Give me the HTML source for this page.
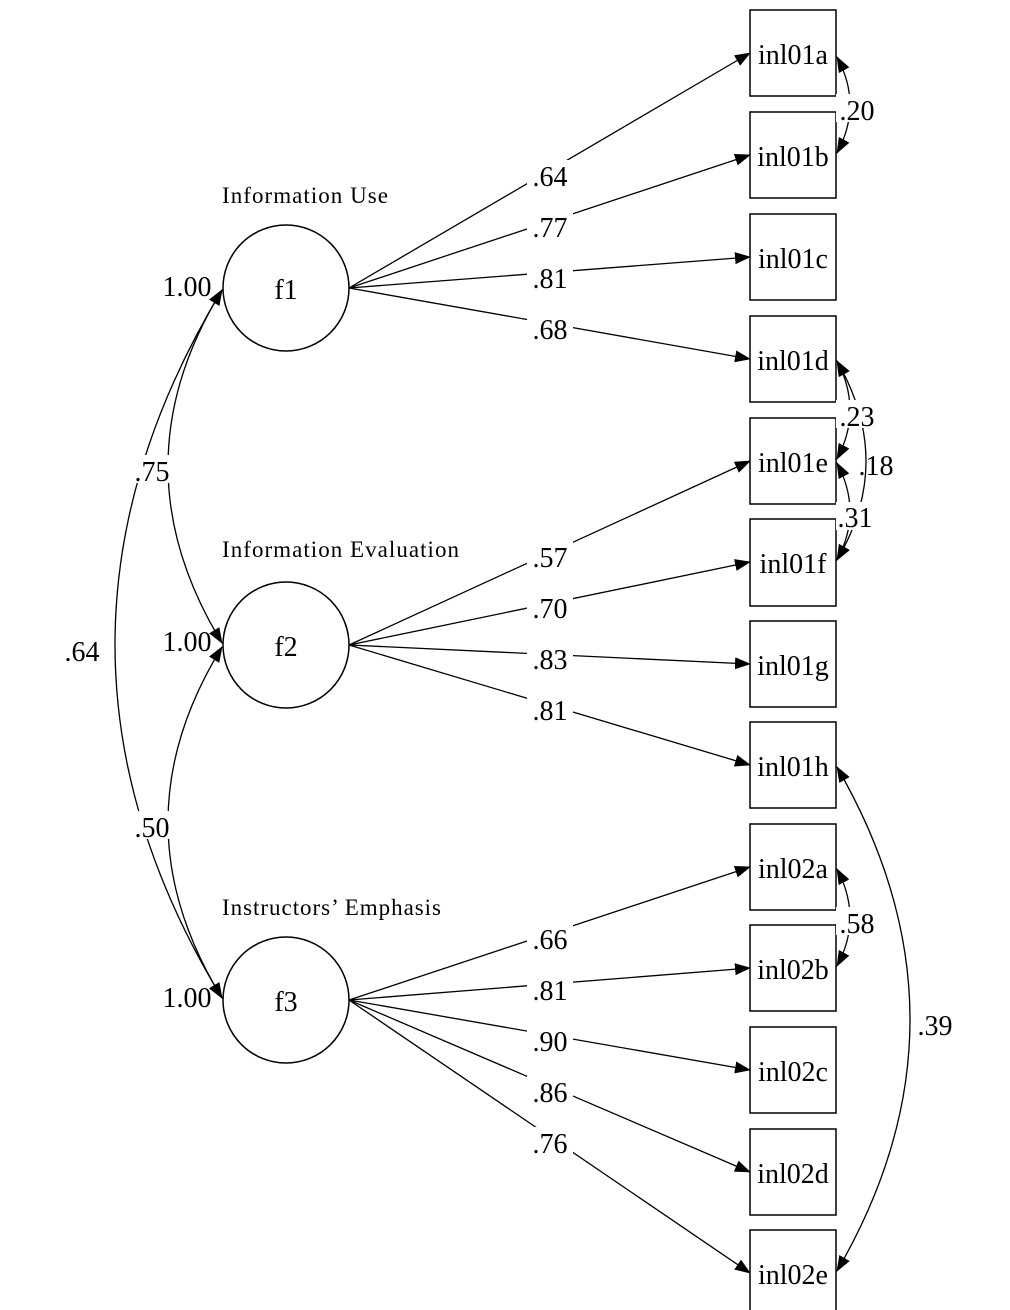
<!DOCTYPE html>
<html><head><meta charset="utf-8"><style>
html,body{margin:0;padding:0;background:#fff;}
svg{display:block;font-family:"Liberation Serif",serif;}
</style></head><body>
<svg width="1010" height="1310" viewBox="0 0 1010 1310">
<defs>
<marker id="a" markerWidth="16" markerHeight="12" refX="15" refY="6" orient="auto" markerUnits="userSpaceOnUse"><path d="M0,0 L16,6 L0,12 Z" fill="#000"/></marker>
<marker id="s" markerWidth="16" markerHeight="12" refX="1" refY="6" orient="auto" markerUnits="userSpaceOnUse"><path d="M16,0 L0,6 L16,12 Z" fill="#000"/></marker>
</defs>
<g fill="#fff" stroke="#000" stroke-width="1.5">
<rect x="750" y="10" width="86" height="86"/>
<rect x="750" y="112" width="86" height="86"/>
<rect x="750" y="214" width="86" height="86"/>
<rect x="750" y="316" width="86" height="86"/>
<rect x="750" y="418" width="86" height="86"/>
<rect x="750" y="519" width="86" height="87"/>
<rect x="750" y="621" width="86" height="86"/>
<rect x="750" y="722" width="86" height="86"/>
<rect x="750" y="824" width="86" height="86"/>
<rect x="750" y="925" width="86" height="86"/>
<rect x="750" y="1027" width="86" height="86"/>
<rect x="750" y="1129" width="86" height="86"/>
<rect x="750" y="1230" width="86" height="90"/>
<circle cx="286" cy="288" r="63"/>
<circle cx="286" cy="645" r="63"/>
<circle cx="286" cy="1000" r="63"/>
</g>
<g stroke="#000" stroke-width="1.3" fill="none" marker-end="url(#a)">
<line x1="349" y1="288" x2="750" y2="53"/>
<line x1="349" y1="288" x2="750" y2="155"/>
<line x1="349" y1="288" x2="750" y2="257"/>
<line x1="349" y1="288" x2="750" y2="359"/>
<line x1="349" y1="645" x2="750" y2="461"/>
<line x1="349" y1="645" x2="750" y2="562"/>
<line x1="349" y1="645" x2="750" y2="664"/>
<line x1="349" y1="645" x2="750" y2="765"/>
<line x1="349" y1="1000" x2="750" y2="867"/>
<line x1="349" y1="1000" x2="750" y2="968"/>
<line x1="349" y1="1000" x2="750" y2="1070"/>
<line x1="349" y1="1000" x2="750" y2="1172"/>
<line x1="349" y1="1000" x2="750" y2="1273"/>
</g>
<g stroke="#000" stroke-width="1.3" fill="none" marker-start="url(#s)" marker-end="url(#a)">
<path d="M222,290 Q114,466 222,643"/>
<path d="M222,290 Q8,645 222,998"/>
<path d="M222,647 Q114,822 222,998"/>
<path d="M837,57 Q863,105 837,153"/>
<path d="M837,361 Q863,410 837,459"/>
<path d="M837,361 Q895,462 837,560"/>
<path d="M837,463 Q863,512 837,560"/>
<path d="M837,869 Q863,918 837,966"/>
<path d="M837,767 Q983,1020 837,1271"/>
</g>
<g font-size="28" text-anchor="middle">
<g fill="#fff">
<rect x="527" y="160" width="46" height="28"/><rect x="527" y="211" width="46" height="28"/>
<rect x="527" y="262" width="46" height="28"/><rect x="527" y="313" width="46" height="28"/>
<rect x="527" y="541" width="46" height="28"/><rect x="527" y="592" width="46" height="28"/>
<rect x="527" y="643" width="46" height="28"/><rect x="527" y="694" width="46" height="28"/>
<rect x="527" y="923" width="46" height="28"/><rect x="527" y="974" width="46" height="28"/>
<rect x="527" y="1025" width="46" height="28"/><rect x="527" y="1076" width="46" height="28"/>
<rect x="527" y="1127" width="46" height="28"/>
<rect x="130" y="455" width="44" height="28"/><rect x="60" y="635" width="44" height="28"/><rect x="130" y="811" width="44" height="28"/>
<rect x="836" y="94" width="40" height="28"/><rect x="836" y="400" width="40" height="28"/>
<rect x="836" y="502" width="40" height="28"/><rect x="836" y="907" width="40" height="28"/>
<rect x="914" y="1010" width="44" height="28"/>
</g>
<text x="550" y="186">.64</text><text x="550" y="237">.77</text>
<text x="550" y="288">.81</text><text x="550" y="339">.68</text>
<text x="550" y="567">.57</text><text x="550" y="618">.70</text>
<text x="550" y="669">.83</text><text x="550" y="720">.81</text>
<text x="550" y="949">.66</text><text x="550" y="1000">.81</text>
<text x="550" y="1051">.90</text><text x="550" y="1102">.86</text>
<text x="550" y="1153">.76</text>
<text x="152" y="481">.75</text><text x="82" y="661">.64</text><text x="152" y="837">.50</text>
<text x="187" y="296">1.00</text><text x="187" y="651">1.00</text><text x="187" y="1007">1.00</text>
<text x="857" y="120">.20</text><text x="857" y="426">.23</text>
<text x="876" y="475">.18</text><text x="855" y="527">.31</text>
<text x="857" y="933">.58</text><text x="935" y="1035">.39</text>
<text x="286" y="299">f1</text><text x="286" y="656">f2</text><text x="286" y="1011">f3</text>
</g>
<g font-size="28" text-anchor="middle">
<text x="793" y="64">inl01a</text><text x="793" y="166">inl01b</text>
<text x="793" y="268">inl01c</text><text x="793" y="370">inl01d</text>
<text x="793" y="472">inl01e</text><text x="793" y="573">inl01f</text>
<text x="793" y="675">inl01g</text><text x="793" y="776">inl01h</text>
<text x="793" y="878">inl02a</text><text x="793" y="979">inl02b</text>
<text x="793" y="1081">inl02c</text><text x="793" y="1183">inl02d</text>
<text x="793" y="1284">inl02e</text>
</g>
<g font-size="23">
<text x="222" y="203" textLength="166">Information Use</text>
<text x="222" y="557" textLength="237">Information Evaluation</text>
<text x="222" y="915" textLength="219">Instructors’ Emphasis</text>
</g>
</svg>
</body></html>
